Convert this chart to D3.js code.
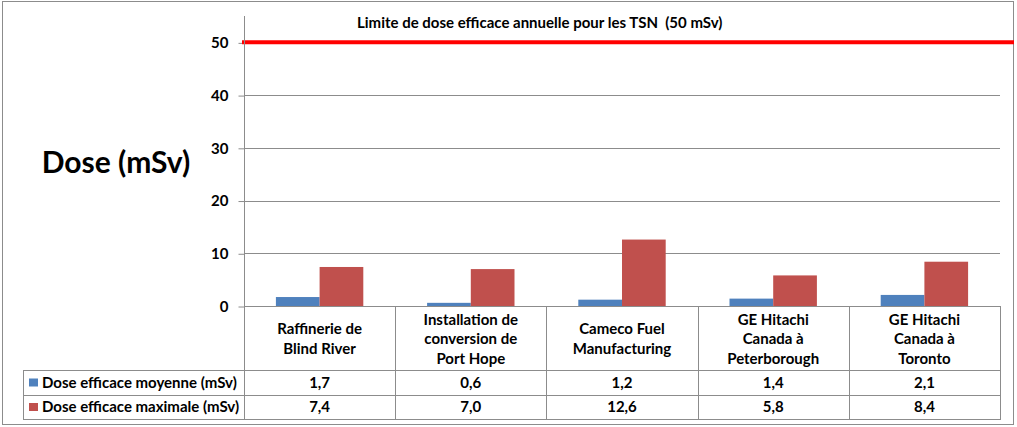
<!DOCTYPE html>
<html><head><meta charset="utf-8">
<script src="https://cdn.jsdelivr.net/npm/d3@7"></script>
<style>
html,body{margin:0;padding:0;background:#fff;}
svg{display:block;font-family:Lato,"Open Sans",sans-serif;}
</style></head>
<body>
<svg id="c" width="1017" height="427"></svg>
<script>
const categories = [
  ["Raffinerie de","Blind River"],
  ["Installation de","conversion de","Port Hope"],
  ["Cameco Fuel","Manufacturing"],
  ["GE Hitachi","Canada à","Peterborough"],
  ["GE Hitachi","Canada à","Toronto"]
];
const seriesNames = ["Dose efficace moyenne (mSv)","Dose efficace maximale (mSv)"];
const moyenne = [1.7, 0.6, 1.2, 1.4, 2.1];
const maximale = [7.4, 7.0, 12.6, 5.8, 8.4];
const yTicks = [0, 10, 20, 30, 40, 50];
const limitValue = 50;
const limitLabel = "Limite de dose efficace annuelle pour les TSN  (50 mSv)";
const yTitle = "Dose (mSv)";

const colors = ["#4F81BD", "#C0504D"];
const gridColor = "#8c8c8c";
const svg = d3.select("#c");
const fmt = v => d3.format(".1f")(v).replace(".", ",");
const fs = 15;

const pLeft = 244, pRight = 1000, pTop = 16, pBase = 306;
const row1 = 370, row2 = 395, row3 = 419, legendLeft = 23;

const idx = d3.range(categories.length);
const x = d3.scaleBand().domain(idx).range([pLeft, pRight]);
const x1 = d3.scaleBand().domain([0, 1]).range([0, x.bandwidth()]).paddingOuter(0.73).paddingInner(0);
const y = d3.scaleLinear().domain([0, 55]).range([pBase, pTop]);

// outer border
svg.append("rect").attr("x", 2.5).attr("y", 1.5).attr("width", 1011).attr("height", 423)
  .attr("fill", "none").attr("stroke", gridColor);

// gridlines
svg.append("g").selectAll("line").data(yTicks.filter(t => t > 0 && t < limitValue)).join("line")
  .attr("x1", pLeft).attr("x2", pRight)
  .attr("y1", d => Math.round(y(d)) + 0.5).attr("y2", d => Math.round(y(d)) + 0.5)
  .attr("stroke", gridColor);

// y axis
const yAxis = d3.axisLeft(y).tickValues(yTicks).tickSize(6).tickPadding(10).tickFormat(d3.format("d"));
const ga = svg.append("g").attr("transform", `translate(${pLeft + 0.5},0.5)`).call(yAxis);
ga.select(".domain").remove();
ga.selectAll(".tick line").attr("stroke", gridColor);
ga.selectAll(".tick text").attr("font-size", 15).attr("font-weight", "bold").attr("fill", "#000")
  .attr("font-family", "Lato,sans-serif");

// bars
const series = [moyenne, maximale];
series.forEach((vals, s) => {
  svg.append("g").selectAll("rect").data(vals).join("rect")
    .attr("x", (d, i) => x(i) + x1(s))
    .attr("width", x1.bandwidth())
    .attr("y", d => y(d))
    .attr("height", d => y(0) - y(d))
    .attr("fill", colors[s]);
});

// limit line
svg.append("line").attr("x1", pLeft - 2).attr("x2", 1014)
  .attr("y1", y(limitValue)).attr("y2", y(limitValue))
  .attr("stroke", "#FF0000").attr("stroke-width", 4);
svg.append("text").attr("x", 357).attr("y", 28).attr("font-size", 15).attr("font-weight", "bold")
  .style("white-space", "pre")
  .text(limitLabel);

// y title
svg.append("text").attr("x", 116).attr("y", 173).attr("text-anchor", "middle")
  .attr("font-size", 30).attr("font-weight", "bold").text(yTitle);

// table lines
const tl = svg.append("g").attr("stroke", gridColor).attr("shape-rendering", "crispEdges");
tl.append("line").attr("x1", pLeft + 0.5).attr("x2", pLeft + 0.5).attr("y1", pTop).attr("y2", row3);
tl.append("line").attr("x1", pLeft).attr("x2", pRight).attr("y1", pBase + 0.5).attr("y2", pBase + 0.5);
[row1, row2, row3].forEach(r => tl.append("line").attr("x1", legendLeft).attr("x2", pRight + 0.5)
  .attr("y1", r + 0.5).attr("y2", r + 0.5));
tl.append("line").attr("x1", legendLeft + 0.5).attr("x2", legendLeft + 0.5).attr("y1", row1).attr("y2", row3);
idx.forEach(i => {
  const xe = Math.round(x(i) + x.bandwidth()) + 0.5;
  tl.append("line").attr("x1", xe).attr("x2", xe).attr("y1", pBase).attr("y2", row3);
});

// category labels
idx.forEach(i => {
  const lines = categories[i];
  const cy = (pBase + row1) / 2 + 1;
  const lh = 19.5;
  const t = svg.append("text").attr("text-anchor", "middle").attr("font-size", fs).attr("font-weight", "bold");
  lines.forEach((ln, k) => {
    t.append("tspan").attr("x", x(i) + x.bandwidth() / 2)
      .attr("y", cy + (k - (lines.length - 1) / 2) * lh + 5).text(ln);
  });
});

// values rows
const rows = [row1, row2, row3];
series.forEach((vals, s) => {
  const cy = (rows[s] + rows[s + 1]) / 2;
  svg.append("g").selectAll("text").data(vals).join("text")
    .attr("x", (d, i) => x(i) + x.bandwidth() / 2).attr("y", cy + 5)
    .attr("text-anchor", "middle").attr("font-size", fs).attr("font-weight", "bold")
    .text(d => fmt(d));
  svg.append("rect").attr("x", 29).attr("y", cy - 4).attr("width", 9).attr("height", 8).attr("fill", colors[s]);
  svg.append("text").attr("x", 42).attr("y", cy + 5).attr("font-size", fs).attr("font-weight", "bold")
    .text(seriesNames[s]);
});
</script>
</body></html>
